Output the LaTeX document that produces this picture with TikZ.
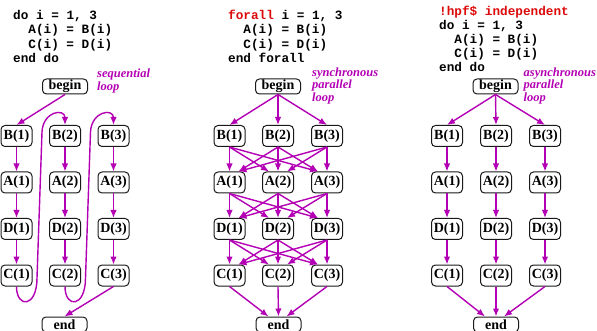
\documentclass[tikz,border=0pt]{standalone}
\usepackage{fontspec}
\setmainfont{Liberation Serif}
\newfontfamily\codefont{Liberation Mono}
\usetikzlibrary{arrows.meta}
\definecolor{mag}{RGB}{180,0,180}
\definecolor{codered}{RGB}{220,10,10}
\tikzset{
  box/.style={draw=black!90, rounded corners=4pt, line width=1pt, minimum width=31pt, minimum height=21pt, inner sep=0pt, fill=white, font=\bfseries\fontsize{14}{14}\selectfont},
  term/.style={box, minimum width=45pt, minimum height=15pt},
  arr/.style={draw=mag, line width=1.4pt, -{Latex[length=8pt,width=6.5pt]}},
  code/.style={anchor=base west, inner sep=0pt, font=\codefont\bfseries\fontsize{12.7}{14}\selectfont},
  lab/.style={anchor=north west, inner sep=0pt, align=left, text=mag, font=\bfseries\itshape\fontsize{12.5}{11.2}\selectfont}
}
\begin{document}
\begin{tikzpicture}[x=1pt,y=-1pt]
\useasboundingbox (0,0) rectangle (597,331);
\clip (0,0) rectangle (597,331);
% ---------- code panel 1
\node[code] (c11) at (13,20) {do i = 1, 3};
\node[code] (c12) at (28.2,34) {A(i) = B(i)};
\node[code] (c13) at (28.2,48.3) {C(i) = D(i)};
\node[code] (c14) at (13,62.5) {end do};
% ---------- code panel 2
\node[code] (c21) at (228,20) {\textcolor{codered}{forall} i = 1, 3};
\node[code] (c22) at (243.2,34) {A(i) = B(i)};
\node[code] (c23) at (243.2,48.3) {C(i) = D(i)};
\node[code] (c24) at (228,62.5) {end forall};
% ---------- code panel 3
\node[code] (c30) at (439,16) {\textcolor{codered}{!hpf\$ independent}};
\node[code] (c31) at (439,30) {do i = 1, 3};
\node[code] (c32) at (454.2,44) {A(i) = B(i)};
\node[code] (c33) at (454.2,58) {C(i) = D(i)};
\node[code] (c34) at (439,72) {end do};
% ---------- labels
\node[lab] (l1) at (97,69) {sequential\\loop};
\node[lab] (l2) at (312,67.5) {synchronous\\parallel\\loop};
\node[lab] (l3) at (523.5,67.5) {asynchronous\\parallel\\loop};
% ---------- begin / end
\node[term] (p1begin) at (65,86.5) {begin};
\node[term] (p2begin) at (278,86.5) {begin};
\node[term] (p3begin) at (495.5,86.5) {begin};
\node[term] (p1end) at (64.5,324.5) {end};
\node[term] (p2end) at (278.5,324.5) {end};
\node[term] (p3end) at (496,324.5) {end};
% ---------- grid nodes
\foreach \p/\xa/\xb/\xc in {1/16.5/65/113.5, 2/229.5/278/327, 3/447/496/545}{
  \foreach \r/\y in {B/136, A/182.5, D/229, C/275.5}{
    \node[box] (p\p\r1) at (\xa,\y) {\r(1)};
    \node[box] (p\p\r2) at (\xb,\y) {\r(2)};
    \node[box] (p\p\r3) at (\xc,\y) {\r(3)};
  }
}
% ---------- panel 1: sequential
\draw[arr] (p1begin.south) -- (p1B1.north);
\foreach \i in {1,2,3}{
  \draw[arr] (p1B\i.south) -- (p1A\i.north);
  \draw[arr] (p1A\i.south) -- (p1D\i.north);
  \draw[arr] (p1D\i.south) -- (p1C\i.north);
}
\draw[arr] (p1C1.south) .. controls +(0,22) and +(0,30) .. (37,278) -- (42,132) .. controls (43,111) and (65,108) .. (p1B2.north);
\draw[arr] (p1C2.south) .. controls +(0,22) and +(0,30) .. (85.5,278) -- (90.5,132) .. controls (91.5,111) and (113.5,108) .. (p1B3.north);
\draw[arr] (p1C3.south) -- (p1end.north);
% ---------- panel 2: synchronous
\foreach \i in {1,2,3}{
  \draw[arr] (p2begin.south) -- (p2B\i.north);
}
\foreach \r/\n in {B/A, A/D, D/C}{
  \foreach \i in {1,2,3}{
    \foreach \j in {1,2,3}{
      \pgfmathsetmacro{\off}{-9*sign(\j-\i)}
      \draw[arr] (p2\r\i.south) -- ([xshift=\off pt]p2\n\j.north);
    }
  }
}
\draw[arr] (p2C1.south) -- ([xshift=-10pt]p2end.north);
\draw[arr] (p2C2.south) -- (p2end.north);
\draw[arr] (p2C3.south) -- ([xshift=8pt]p2end.north);
% ---------- panel 3: asynchronous
\foreach \i in {1,2,3}{
  \draw[arr] (p3begin.south) -- (p3B\i.north);
  \draw[arr] (p3B\i.south) -- (p3A\i.north);
  \draw[arr] (p3A\i.south) -- (p3D\i.north);
  \draw[arr] (p3D\i.south) -- (p3C\i.north);
}
\draw[arr] (p3C1.south) -- ([xshift=-11pt]p3end.north);
\draw[arr] (p3C2.south) -- (p3end.north);
\draw[arr] (p3C3.south) -- ([xshift=8pt]p3end.north);
\end{tikzpicture}
\end{document}
